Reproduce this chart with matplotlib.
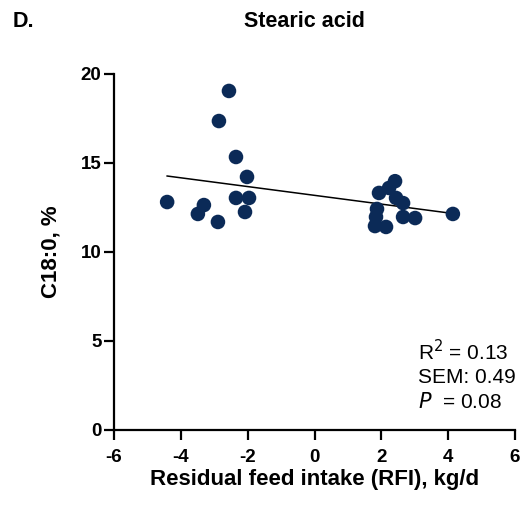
import numpy as np
import matplotlib
matplotlib.use("Agg")
import matplotlib.pyplot as plt

plt.rcParams['font.family'] = ['Liberation Sans', 'DejaVu Sans']
plt.rcParams['axes.unicode_minus'] = False

rfi = [-4.41, -3.31, -3.49, -2.89, -2.56, -2.86, -2.35, -2.02, -2.35, -1.96, -2.08,
       2.41, 2.23, 1.93, 2.44, 2.65, 1.87, 1.84, 1.81, 2.14, 2.65, 3.01, 4.14]
c180 = [12.78, 12.61, 12.11, 11.66, 19.02, 17.33, 15.31, 14.19, 13.01, 13.01, 12.22,
        13.95, 13.57, 13.29, 13.01, 12.72, 12.39, 11.94, 11.43, 11.38, 11.94, 11.88, 12.11]

x_ticks = [-6, -4, -2, 0, 2, 4, 6]
y_ticks = [0, 5, 10, 15, 20]

fig = plt.figure(figsize=(5.31, 5.08), dpi=100)
ax = fig.add_axes([0.2147, 0.1545, 0.9699 - 0.2147, 0.8553 - 0.1545])

x = np.array(rfi)
y = np.array(c180)
slope, intercept = np.polyfit(x, y, 1)
xl = np.array([x.min(), x.max()])
ax.plot(xl, slope * xl + intercept, color='black', lw=1.1, zorder=2)
ax.scatter(x, y, s=110, color='#0b2a57', edgecolors='none', zorder=3)

ax.set_xlim(-6, 6)
ax.set_ylim(0, 20)
ax.set_xticks(x_ticks)
ax.set_yticks(y_ticks)
ax.spines['top'].set_visible(False)
ax.spines['right'].set_visible(False)
for s in ['left', 'bottom']:
    ax.spines[s].set_linewidth(1.6)
ax.tick_params(width=1.6, length=7, labelsize=13.5, direction='out')
ax.tick_params(axis='y', pad=2)
ax.tick_params(axis='x', pad=7)
for lab in ax.get_xticklabels() + ax.get_yticklabels():
    lab.set_fontweight('bold')

ax.set_xlabel('Residual feed intake (RFI), kg/d', fontsize=16, fontweight='bold')
ax.set_ylabel('C18:0, %', fontsize=16, fontweight='bold')
ax.xaxis.set_label_coords(0.5, -0.112)
ax.yaxis.set_label_coords(-0.132, 0.5)

fig.text(0.573, 0.958, 'Stearic acid', ha='center', va='center', fontsize=15.5, fontweight='bold')
fig.text(0.024, 0.958, 'D.', ha='left', va='center', fontsize=15.5, fontweight='bold')

ax.text(0.758, 0.218, r'R$^2$ = 0.13', transform=ax.transAxes, fontsize=15, ha='left', va='center')
ax.text(0.758, 0.145, 'SEM: 0.49', transform=ax.transAxes, fontsize=15, ha='left', va='center')
ax.text(0.758, 0.077, r'$\it{P}$  = 0.08', transform=ax.transAxes, fontsize=15, ha='left', va='center')

fig.savefig('out.png', dpi=100)
